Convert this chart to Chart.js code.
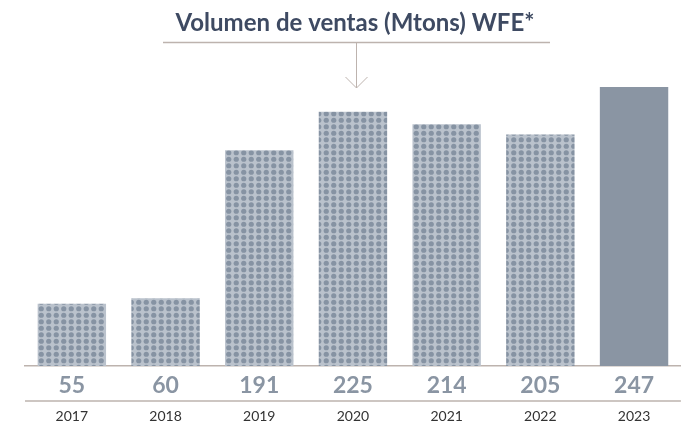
<!DOCTYPE html>
<html>
<head>
<meta charset="utf-8">
<script src="https://cdn.jsdelivr.net/npm/chart.js@4"></script>
<style>
  html, body { margin: 0; padding: 0; background: #ffffff; }
  #wrap { width: 693px; height: 433px; }
</style>
</head>
<body>
<div id="wrap"><canvas id="c" width="693" height="433"></canvas></div>
<script>
// Sales volume per year (Mtons)
const years = ['2017', '2018', '2019', '2020', '2021', '2022', '2023'];
const volumes = [55, 60, 191, 225, 214, 205, 247];
const titleText = 'Volumen de ventas (Mtons) WFE*';

const LINE_COLOR = '#bdb3ae';
const BAR_SOLID = '#8a95a3';
const DOT_BG = '#bac2cc';
const DOT_FG = '#8693a3';

// Dotted fill for the historical years (2x2 dots per tile)
function dotPattern() {
  const t = document.createElement('canvas');
  t.width = 15; t.height = 13;
  const g = t.getContext('2d');
  g.fillStyle = DOT_BG;
  g.fillRect(0, 0, 15, 13);
  g.fillStyle = DOT_FG;
  [[3.75, 3.25], [11.25, 3.25], [3.75, 9.75], [11.25, 9.75]].forEach(([x, y]) => {
    g.beginPath();
    g.arc(x, y, 2.6, 0, Math.PI * 2);
    g.fill();
  });
  return g.createPattern(t, 'repeat');
}
const pattern = dotPattern();
const barFills = years.map((y, i) => i === years.length - 1 ? BAR_SOLID : pattern);

// Title with rule and arrow, value row and separator line
const decorations = {
  id: 'decorations',
  afterDraw(chart) {
    const ctx = chart.ctx;
    const area = chart.chartArea;
    ctx.save();
    // title
    ctx.fillStyle = '#3e4a62';
    ctx.font = 'bold 24px Lato';
    ctx.textAlign = 'center';
    ctx.textBaseline = 'middle';
    ctx.fillText(titleText, 355, 23);
    // rule under title
    ctx.strokeStyle = LINE_COLOR;
    ctx.lineWidth = 1.5;
    ctx.beginPath();
    ctx.moveTo(163, 42.5); ctx.lineTo(550, 42.5);
    ctx.stroke();
    // arrow
    ctx.lineWidth = 1;
    ctx.beginPath();
    ctx.moveTo(356.5, 42.5); ctx.lineTo(356.5, 88);
    ctx.moveTo(345.5, 77); ctx.lineTo(356.5, 88); ctx.lineTo(367.5, 77);
    ctx.stroke();
    // separator below value row
    ctx.lineWidth = 1.5;
    ctx.beginPath();
    ctx.moveTo(area.left, area.bottom + 35); ctx.lineTo(area.right, area.bottom + 35);
    ctx.stroke();
    // values
    const meta = chart.getDatasetMeta(0);
    ctx.fillStyle = BAR_SOLID;
    ctx.font = 'bold 23px Lato';
    meta.data.forEach((bar, i) => {
      ctx.fillText(String(chart.data.datasets[0].data[i]), bar.x, area.bottom + 20);
    });
    ctx.restore();
  }
};

new Chart(document.getElementById('c'), {
  type: 'bar',
  data: {
    labels: years,
    datasets: [{
      data: volumes,
      backgroundColor: barFills,
      borderWidth: 0,
      barPercentage: 0.73,
      categoryPercentage: 1
    }]
  },
  options: {
    responsive: false,
    animation: false,
    devicePixelRatio: 1,
    layout: { padding: { left: 25, right: 10, top: 61, bottom: 8 } },
    plugins: {
      legend: { display: false },
      tooltip: { enabled: false },
      title: { display: false }
    },
    scales: {
      x: {
        grid: { display: false, drawTicks: false },
        border: { display: true, color: LINE_COLOR, width: 1.5 },
        ticks: { color: '#333333', font: { family: 'Lato', size: 14 }, padding: 42, maxRotation: 0 },
        afterFit(scale) { scale.height = 59; }
      },
      y: {
        display: false,
        min: 0,
        max: 270
      }
    }
  },
  plugins: [decorations]
});
</script>
</body>
</html>
